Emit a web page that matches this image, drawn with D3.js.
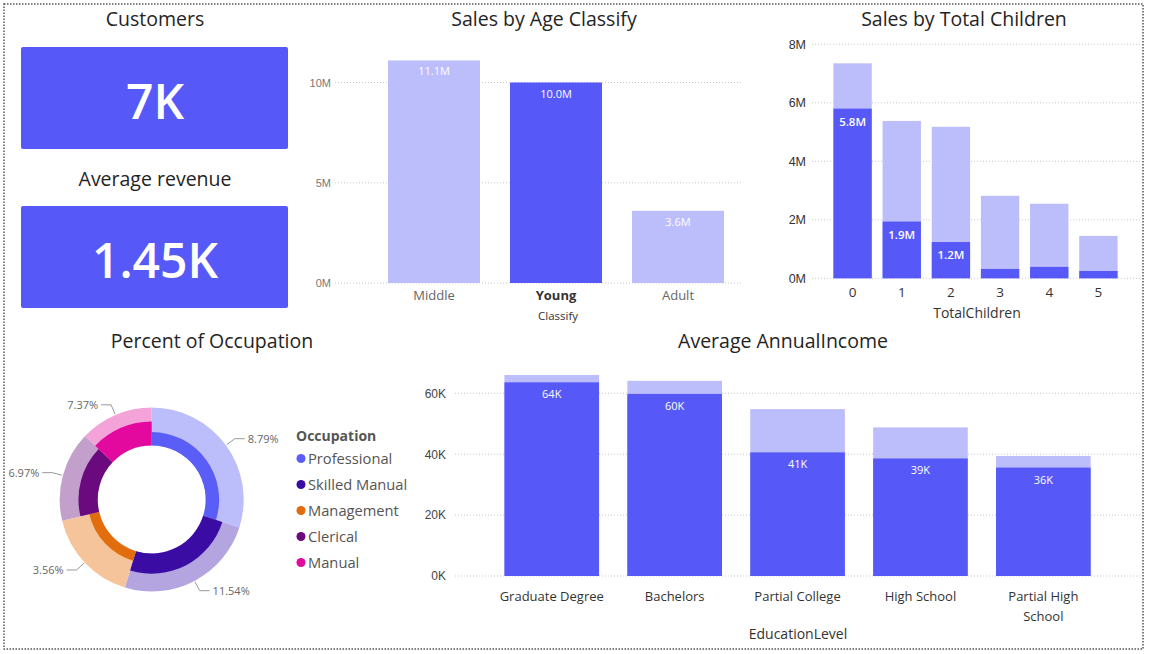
<!DOCTYPE html>
<html>
<head>
<meta charset="utf-8">
<script src="https://cdn.jsdelivr.net/npm/d3@7"></script>
<style>
    html, body { margin: 0; padding: 0; background: #fff; }
    svg { display: block; font-family: "Open Sans", "Noto Sans", sans-serif; }
</style>
</head>
<body>
<svg id="dash" width="1149" height="654"></svg>
<script>
// KPI cards
const kpiTitles = ["Customers", "Average revenue"];
const kpiValues = ["7K", "1.45K"];

// Sales by Age Classify
const ageCats = ["Middle", "Young", "Adult"];
const ageSales = [11.1e6, 10.0e6, 3.6e6];
const ageSelected = "Young";
const ageTicks = [0, 5e6, 10e6];

// Sales by Total Children (total vs highlighted part)
const childCats = ["0", "1", "2", "3", "4", "5"];
const childTotal = [7.35e6, 5.38e6, 5.18e6, 2.82e6, 2.55e6, 1.45e6];
const childHighlight = [5.8e6, 1.94e6, 1.24e6, 0.32e6, 0.39e6, 0.25e6];
const childTicks = [0, 2e6, 4e6, 6e6, 8e6];

// Average AnnualIncome by education
const eduCats = ["Graduate Degree", "Bachelors", "Partial College", "High School", "Partial High School"];
const eduTotal = [66.0e3, 64.1e3, 54.8e3, 48.8e3, 39.4e3];
const eduHighlight = [63.6e3, 59.8e3, 40.6e3, 38.6e3, 35.6e3];
const eduTicks = [0, 20e3, 40e3, 60e3];

// Percent of Occupation (share of all, share highlighted)
const occNames = ["Professional", "Skilled Manual", "Management", "Clerical", "Manual"];
const occTotal = [29.9, 24.8, 16.6, 15.8, 12.9];
const occHighlight = [8.79, 11.54, 3.56, 6.97, 7.37];

const dark = "#5659F8";
const light = "#BCBDFB";
const occDark = ["#5B5EF6", "#3A0CA3", "#E16D0C", "#6A0A7E", "#E3099E"];
const occLight = ["#BCBDFB", "#B4A5E0", "#F5C49B", "#C3A0CC", "#F3A3D8"];

const svg = d3.select("#dash");

// dotted frame
svg.append("rect")
    .attr("x", 4).attr("y", 4).attr("width", 1139).attr("height", 645)
    .attr("fill", "none").attr("stroke", "#555").attr("stroke-width", 1.5)
    .attr("stroke-dasharray", "1.5,1.5");

function title(x, y, txt) {
    svg.append("text")
        .attr("x", x).attr("y", y)
        .attr("text-anchor", "middle")
        .attr("font-size", "19.5px")
        .attr("fill", "#252423")
        .text(txt);
}

function grid(g, y, ticks, x0, x1) {
    g.selectAll("line.grid")
        .data(ticks)
        .enter().append("line")
        .attr("class", "grid")
        .attr("x1", x0).attr("x2", x1)
        .attr("y1", d => y(d)).attr("y2", d => y(d))
        .attr("stroke", "#c8c8c8")
        .attr("stroke-dasharray", "1,2");
}

function yAxis(x, y, ticks, fmt, size, color) {
    const ax = svg.append("g")
        .attr("transform", `translate(${x},0)`)
        .call(d3.axisLeft(y).tickValues(ticks).tickFormat(fmt).tickSize(0).tickPadding(0));
    ax.select(".domain").remove();
    ax.selectAll("text").attr("font-size", size).attr("fill", color).attr("font-family", "inherit");
}

// ---------- KPI cards ----------
const cardY = [47, 206];
const titleY = [26, 186];
kpiTitles.forEach((t, i) => {
    title(155, titleY[i], t);
    svg.append("rect")
        .attr("x", 21).attr("y", cardY[i])
        .attr("width", 267).attr("height", 102)
        .attr("rx", 2)
        .attr("fill", dark);
    svg.append("text")
        .attr("x", 155).attr("y", cardY[i] + 72)
        .attr("text-anchor", "middle")
        .attr("font-size", "48px")
        .attr("font-weight", 600)
        .attr("fill", "#fff")
        .text(kpiValues[i]);
});

// ---------- Sales by Age Classify ----------
title(544, 26, "Sales by Age Classify");
{
    const x = d3.scaleBand().domain(ageCats).range([373, 739]).paddingInner(0.246).paddingOuter(0.123);
    const y = d3.scaleLinear().domain([0, 10e6]).range([283, 82.5]);
    const g = svg.append("g");
    grid(g, y, ageTicks, 335, 742);
    yAxis(331, y, ageTicks, d => d / 1e6 + "M", "11px", "#777");

    g.selectAll("rect.bar")
        .data(ageCats)
        .enter().append("rect")
        .attr("x", d => x(d))
        .attr("y", (d, i) => y(ageSales[i]))
        .attr("width", x.bandwidth())
        .attr("height", (d, i) => y(0) - y(ageSales[i]))
        .attr("fill", d => d === ageSelected ? dark : light);

    g.selectAll("text.val")
        .data(ageCats)
        .enter().append("text")
        .attr("x", d => x(d) + x.bandwidth() / 2)
        .attr("y", (d, i) => y(ageSales[i]) + 15)
        .attr("text-anchor", "middle")
        .attr("font-size", "11px")
        .attr("fill", "#fff")
        .text((d, i) => (ageSales[i] / 1e6).toFixed(1) + "M");

    g.selectAll("text.cat")
        .data(ageCats)
        .enter().append("text")
        .attr("x", d => x(d) + x.bandwidth() / 2)
        .attr("y", 300)
        .attr("text-anchor", "middle")
        .attr("font-size", "13px")
        .attr("font-weight", d => d === ageSelected ? 700 : 400)
        .attr("fill", d => d === ageSelected ? "#333" : "#666")
        .text(d => d);

    g.append("text")
        .attr("x", 558).attr("y", 320)
        .attr("text-anchor", "middle")
        .attr("font-size", "11.5px")
        .attr("fill", "#333")
        .text("Classify");
}

// ---------- Sales by Total Children ----------
title(964, 26, "Sales by Total Children");
{
    const x = d3.scaleBand().domain(childCats).range([828, 1123]).paddingInner(0.22).paddingOuter(0.11);
    const y = d3.scaleLinear().domain([0, 8e6]).range([278.3, 44.3]);
    const g = svg.append("g");
    grid(g, y, childTicks, 812, 1140);
    yAxis(806, y, childTicks, d => d / 1e6 + "M", "12.5px", "#333");

    g.selectAll("rect.tot")
        .data(childCats)
        .enter().append("rect")
        .attr("x", d => x(d))
        .attr("y", (d, i) => y(childTotal[i]))
        .attr("width", x.bandwidth())
        .attr("height", (d, i) => y(0) - y(childTotal[i]))
        .attr("fill", light);

    g.selectAll("rect.hl")
        .data(childCats)
        .enter().append("rect")
        .attr("x", d => x(d))
        .attr("y", (d, i) => y(childHighlight[i]))
        .attr("width", x.bandwidth())
        .attr("height", (d, i) => y(0) - y(childHighlight[i]))
        .attr("fill", dark);

    g.selectAll("text.val")
        .data(childCats.filter((d, i) => childHighlight[i] >= 1e6))
        .enter().append("text")
        .attr("x", d => x(d) + x.bandwidth() / 2)
        .attr("y", d => y(childHighlight[childCats.indexOf(d)]) + 17)
        .attr("text-anchor", "middle")
        .attr("font-size", "11.5px")
        .attr("font-weight", 600)
        .attr("fill", "#fff")
        .text(d => (childHighlight[childCats.indexOf(d)] / 1e6).toFixed(1) + "M");

    g.selectAll("text.cat")
        .data(childCats)
        .enter().append("text")
        .attr("x", d => x(d) + x.bandwidth() / 2)
        .attr("y", 297)
        .attr("text-anchor", "middle")
        .attr("font-size", "13.5px")
        .attr("fill", "#333")
        .text(d => d);

    g.append("text")
        .attr("x", 977).attr("y", 318)
        .attr("text-anchor", "middle")
        .attr("font-size", "14px")
        .attr("fill", "#333")
        .text("TotalChildren");
}

// ---------- Percent of Occupation ----------
title(212, 348, "Percent of Occupation");
{
    const cx = 151.7, cy = 499.5, rIn = 54, rOut = 92;
    const pie = d3.pie().sort(null).value(d => d.total);
    const data = occNames.map((n, i) => ({ name: n, total: occTotal[i], hl: occHighlight[i], i }));
    const arcs = pie(data);
    // highlighted part drawn with area proportional to its share of the slice
    const rHl = d => Math.sqrt(rIn * rIn + (d.hl / d.total) * (rOut * rOut - rIn * rIn));

    const g = svg.append("g").attr("transform", `translate(${cx},${cy})`);

    g.selectAll("path.outer")
        .data(arcs)
        .enter().append("path")
        .attr("d", d3.arc().innerRadius(rIn).outerRadius(rOut))
        .attr("fill", d => occLight[d.data.i]);

    g.selectAll("path.inner")
        .data(arcs)
        .enter().append("path")
        .attr("d", d => d3.arc().innerRadius(rIn).outerRadius(rHl(d.data))(d))
        .attr("fill", d => occDark[d.data.i]);

    arcs.forEach(d => {
        const a = (d.startAngle + d.endAngle) / 2;
        const s = Math.sin(a), c = -Math.cos(a);
        const side = s >= 0 ? 1 : -1;
        const p0 = [s * (rOut + 1), c * (rOut + 1)];
        const p1 = [s * (rOut + 11), c * (rOut + 11)];
        const p2 = [p1[0] + side * 10, p1[1]];
        g.append("polyline")
            .attr("points", [p0, p1, p2].map(p => p.join(",")).join(" "))
            .attr("fill", "none")
            .attr("stroke", "#999")
            .attr("stroke-width", 1);
        g.append("text")
            .attr("x", p2[0] + side * 3)
            .attr("y", p2[1] + 4)
            .attr("text-anchor", side > 0 ? "start" : "end")
            .attr("font-size", "11px")
            .attr("fill", "#666")
            .text(d.data.hl.toFixed(2) + "%");
    });

    // legend
    const lg = svg.append("g");
    lg.append("text")
        .attr("x", 296).attr("y", 441)
        .attr("font-size", "14px")
        .attr("font-weight", 700)
        .attr("fill", "#555")
        .text("Occupation");
    const item = lg.selectAll("g.item")
        .data(occNames)
        .enter().append("g")
        .attr("transform", (d, i) => `translate(301,${458.5 + i * 26})`);
    item.append("circle").attr("r", 4.5).attr("fill", (d, i) => occDark[i]);
    item.append("text")
        .attr("x", 7).attr("y", 5)
        .attr("font-size", "14.7px")
        .attr("fill", "#555")
        .text(d => d);
}

// ---------- Average AnnualIncome ----------
title(783, 348, "Average AnnualIncome");
{
    const x = d3.scaleBand().domain(eduCats).range([490.3, 1104.8]).paddingInner(0.23).paddingOuter(0.115);
    const y = d3.scaleLinear().domain([0, 60e3]).range([576, 393.3]);
    const g = svg.append("g");
    grid(g, y, eduTicks, 455, 1140);
    yAxis(446, y, eduTicks, d => d / 1e3 + "K", "12px", "#444");

    g.selectAll("rect.tot")
        .data(eduCats)
        .enter().append("rect")
        .attr("x", d => x(d))
        .attr("y", (d, i) => y(eduTotal[i]))
        .attr("width", x.bandwidth())
        .attr("height", (d, i) => y(0) - y(eduTotal[i]))
        .attr("fill", light);

    g.selectAll("rect.hl")
        .data(eduCats)
        .enter().append("rect")
        .attr("x", d => x(d))
        .attr("y", (d, i) => y(eduHighlight[i]))
        .attr("width", x.bandwidth())
        .attr("height", (d, i) => y(0) - y(eduHighlight[i]))
        .attr("fill", dark);

    g.selectAll("text.val")
        .data(eduCats)
        .enter().append("text")
        .attr("x", d => x(d) + x.bandwidth() / 2)
        .attr("y", (d, i) => y(eduHighlight[i]) + 16)
        .attr("text-anchor", "middle")
        .attr("font-size", "11px")
        .attr("fill", "#fff")
        .text((d, i) => Math.round(eduHighlight[i] / 1e3) + "K");

    const cats = g.selectAll("text.cat")
        .data(eduCats)
        .enter().append("text")
        .attr("x", d => x(d) + x.bandwidth() / 2)
        .attr("y", 601)
        .attr("text-anchor", "middle")
        .attr("font-size", "13px")
        .attr("fill", "#333")
        .text(d => d);
    cats.each(function(d) { wrap(d3.select(this), 112); });

    g.append("text")
        .attr("x", 798).attr("y", 639)
        .attr("text-anchor", "middle")
        .attr("font-size", "14px")
        .attr("fill", "#333")
        .text("EducationLevel");
}

function wrap(text, width) {
    const words = text.text().split(/\s+/);
    if (text.node().getComputedTextLength() <= width) return;
    const x = text.attr("x");
    text.text(null);
    let line = [];
    let tspan = text.append("tspan").attr("x", x);
    words.forEach(w => {
        line.push(w);
        tspan.text(line.join(" "));
        if (tspan.node().getComputedTextLength() > width && line.length > 1) {
            line.pop();
            tspan.text(line.join(" "));
            line = [w];
            tspan = text.append("tspan").attr("x", x).attr("dy", "1.5em").text(w);
        }
    });
}
</script>
</body>
</html>
